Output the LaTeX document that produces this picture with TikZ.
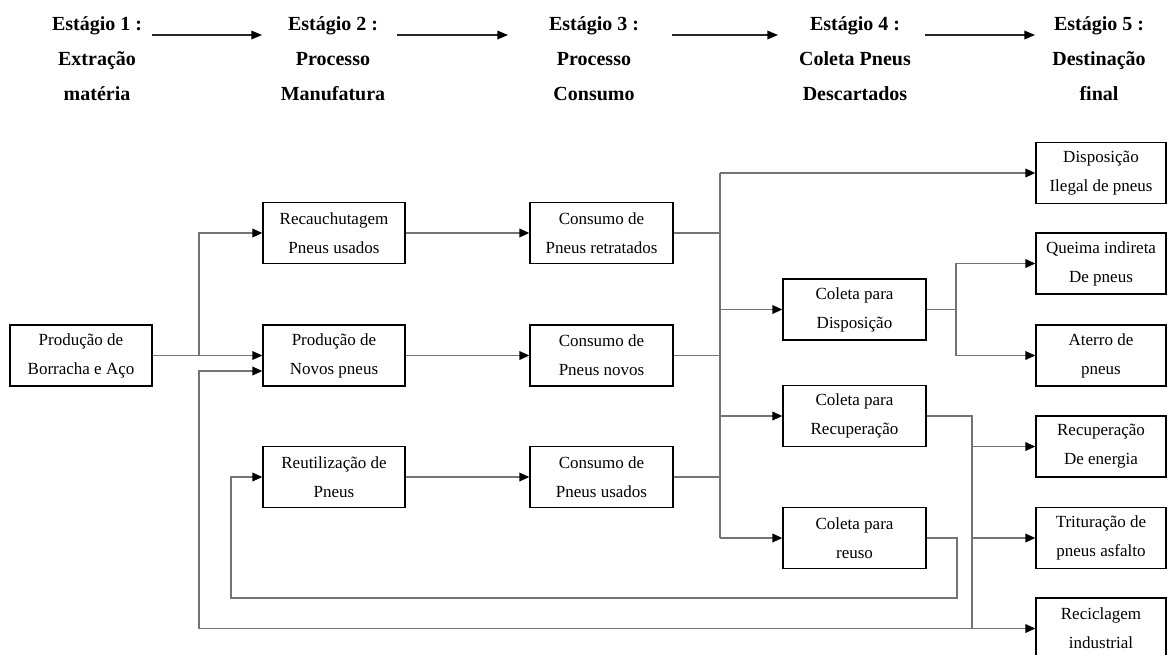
\documentclass[tikz,border=0pt]{standalone}
\usepackage{fontspec}
\setmainfont{Liberation Serif}
\usetikzlibrary{arrows.meta,calc}
\begin{document}
\begin{tikzpicture}[x=0.75pt,y=-0.75pt,
  box/.style={draw=black,line width=1pt,inner sep=0pt,align=center,minimum height=45.75pt,
              font=\fontsize{12.75}{21.75}\selectfont},
  wbox/.style={box,minimum width=106.5pt},
  cbox/.style={box,minimum width=107.25pt},
  rbox/.style={box,minimum width=97.5pt},
  hdr/.style={font=\fontsize{15}{18}\selectfont\bfseries,inner sep=0pt,anchor=base},
  conn/.style={line width=1.1pt,draw=black!55},
  arr/.style={conn,-{Triangle[length=7.5pt,width=6.5pt,color=black]}},
  harr/.style={line width=1pt,draw=black!85,-{Triangle[length=8pt,width=6.5pt,color=black]}},
]
\useasboundingbox (0,0) rectangle (1169,654);

% ---- header ----
\node[hdr] (h1)  at (97,30)  {Estágio 1 :};
\node[hdr] (h1b) at (97,65)  {Extração};
\node[hdr] (h1c) at (97,100) {matéria};
\node[hdr] (h2)  at (333,30)  {Estágio 2 :};
\node[hdr] (h2b) at (333,65)  {Processo};
\node[hdr] (h2c) at (333,100) {Manufatura};
\node[hdr] (h3)  at (594,30)  {Estágio 3 :};
\node[hdr] (h3b) at (594,65)  {Processo};
\node[hdr] (h3c) at (594,100) {Consumo};
\node[hdr] (h4)  at (855,30)  {Estágio 4 :};
\node[hdr] (h4b) at (855,65)  {Coleta Pneus};
\node[hdr] (h4c) at (855,100) {Descartados};
\node[hdr] (h5)  at (1099,30)  {Estágio 5 :};
\node[hdr] (h5b) at (1099,65)  {Destinação};
\node[hdr] (h5c) at (1099,100) {final};

\draw[harr] ([shift={(55,5)}]h1.base) -- ([shift={(-71,5)}]h2.base);
\draw[harr] ([shift={(64,5)}]h2.base) -- ([shift={(-86,5)}]h3.base);
\draw[harr] ([shift={(78,5)}]h3.base) -- ([shift={(-77,5)}]h4.base);
\draw[harr] ([shift={(70,5)}]h4.base) -- ([shift={(-64,5)}]h5.base);

% ---- boxes ----
\node[wbox] (prod)  at (81,355.5)  {Produção de\\Borracha e Aço};
\node[wbox] (recau) at (334,233)   {Recauchutagem\\Pneus usados};
\node[wbox] (novos) at (334,355.5) {Produção de\\Novos pneus};
\node[wbox] (reut)  at (334,477)   {Reutilização de\\Pneus};

\node[cbox] (consR) at (601.5,233)   {Consumo de\\Pneus retratados};
\node[cbox] (consN) at (601.5,355.5) {Consumo de\\Pneus novos};
\node[cbox] (consU) at (601.5,477)   {Consumo de\\Pneus usados};

\node[cbox] (colD) at (854.5,309.5) {Coleta para\\Disposição};
\node[cbox] (colR) at (854.5,416)   {Coleta para\\Recuperação};
\node[cbox] (colU) at (854.5,538)   {Coleta para\\reuso};

\node[rbox] (ileg)   at (1101,173)   {Disposição\\Ilegal de pneus};
\node[rbox] (queima) at (1101,263.5) {Queima indireta\\De pneus};
\node[rbox] (aterro) at (1101,355.5) {Aterro de\\pneus};
\node[rbox] (recE)   at (1101,446.5) {Recuperação\\De energia};
\node[rbox] (trit)   at (1101,538)   {Trituração de\\pneus asfalto};
\node[rbox] (recic)  at (1101,628.5) {Reciclagem\\industrial};

% ---- junction points ----
\coordinate (jL) at (199,355.5);
\coordinate (jO) at (199,371);
\coordinate (jC) at (720,173);
\coordinate (jD) at (956,309.5);
\coordinate (jR) at (972,416);
\coordinate (jB) at (972,628.5);
\coordinate (jU) at (957,598);
\coordinate (jI) at (231,477);

% ---- connectors ----
\draw[arr] (prod.east) -- (novos.west);
\draw[arr] (jL) |- (recau.west);
\draw[arr] (recau.east) -- (consR.west);
\draw[arr] (novos.east) -- (consN.west);
\draw[arr] (reut.east) -- (consU.west);

\draw[conn] (consR.east) -- (consR.east -| jC);
\draw[conn] (consN.east) -- (consN.east -| jC);
\draw[conn] (consU.east) -- (consU.east -| jC);
\draw[conn] (jC) -- (jC |- colU.west);
\draw[arr] (jC) -- (ileg.west);
\draw[arr] (jC |- colD.west) -- (colD.west);
\draw[arr] (jC |- colR.west) -- (colR.west);
\draw[arr] (jC |- colU.west) -- (colU.west);

\draw[conn] (colD.east) -- (jD);
\draw[arr] (jD) |- (queima.west);
\draw[arr] (jD) |- (aterro.west);

\draw[conn] (colR.east) -- (jR) -- (jB);
\draw[arr] (jR |- recE.west) -- (recE.west);
\draw[arr] (jR |- trit.west) -- (trit.west);
\draw[arr] (jB) -- (recic.west);
\draw[arr] (jB) -| (jO) -- (jO -| novos.west);

\draw[arr] (colU.east) -| (jU) -| (jI) -- (reut.west);
\end{tikzpicture}
\end{document}
